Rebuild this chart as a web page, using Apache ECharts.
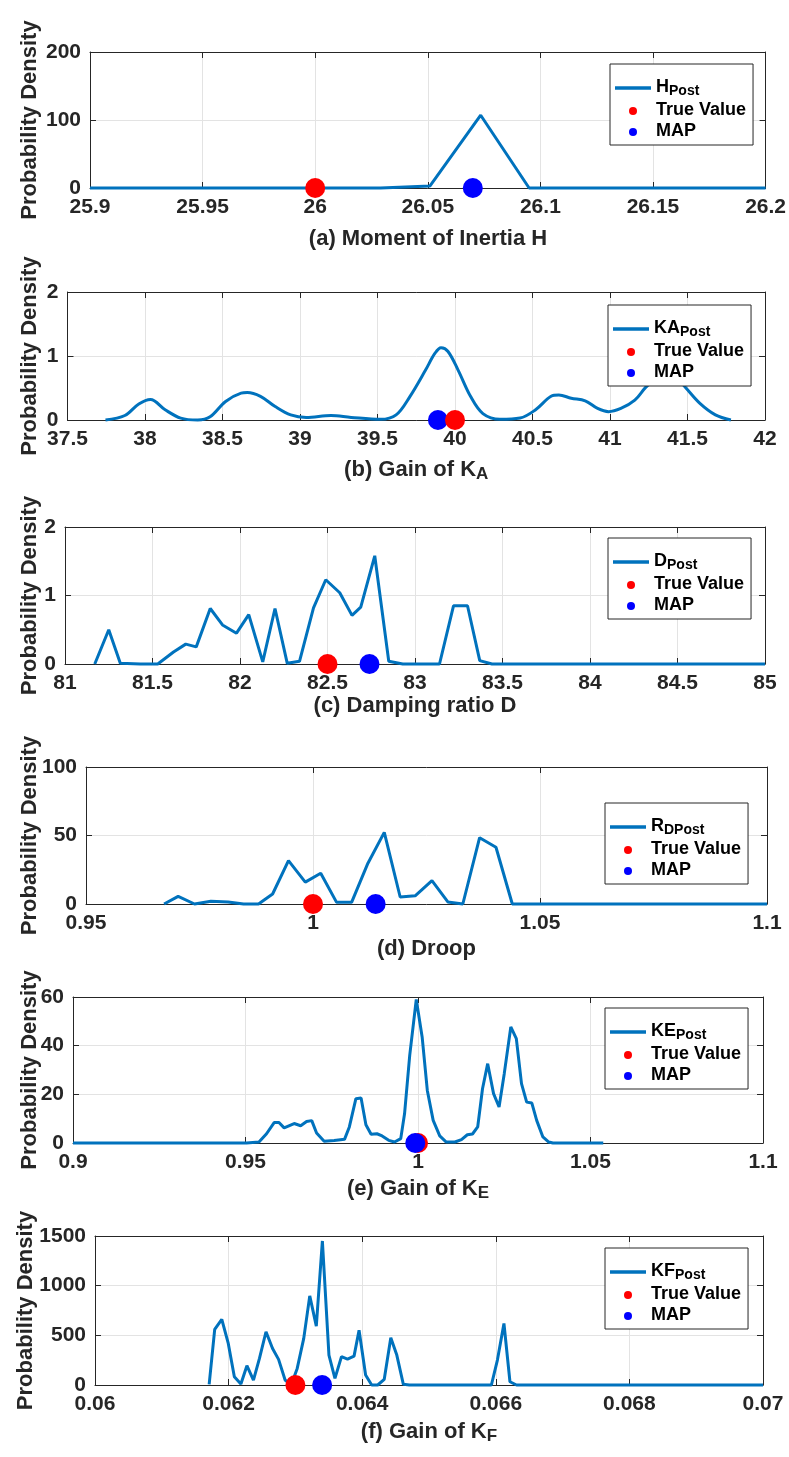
<!DOCTYPE html>
<html><head><meta charset="utf-8">
<script src="https://cdn.jsdelivr.net/npm/echarts@6/dist/echarts.min.js"></script>
<style>html,body{margin:0;padding:0;background:#fff}#c{width:789px;height:1457px}</style>
</head><body><div id="c"></div>
<script>
// ---------- DATA ----------
// (a) Moment of Inertia H
const H_x = [25.9, 25.95, 26.0, 26.029, 26.051, 26.0735, 26.095, 26.15, 26.2];
const H_y = [0, 0, 0, 0, 3, 107, 0, 0, 0];
const H_true = 26.0, H_map = 26.07;
// (b) Gain of KA
const KA_x = [37.745, 37.87, 37.96, 38.035, 38.13, 38.23, 38.34, 38.42, 38.52, 38.62, 38.66, 38.745, 38.84, 38.94, 39.04, 39.2, 39.33, 39.52, 39.62, 39.71, 39.81, 39.87, 39.91, 39.955, 40.02, 40.1, 40.18, 40.29, 40.42, 40.52, 40.62, 40.67, 40.75, 40.84, 40.92, 40.99, 41.07, 41.16, 41.23, 41.3, 41.36, 41.42, 41.49, 41.58, 41.68, 41.78];
const KA_y = [0, 0.07, 0.25, 0.32, 0.16, 0.03, 0.0, 0.05, 0.29, 0.42, 0.43, 0.37, 0.21, 0.08, 0.04, 0.07, 0.04, 0.01, 0.08, 0.37, 0.78, 1.04, 1.13, 1.07, 0.78, 0.37, 0.1, 0.01, 0.03, 0.16, 0.37, 0.39, 0.34, 0.30, 0.18, 0.13, 0.18, 0.31, 0.51, 0.66, 0.74, 0.68, 0.5, 0.26, 0.08, 0.0];
const KA_true = 40.0, KA_map = 39.89;
// (c) Damping ratio D
const D_x = [81.17, 81.25, 81.316, 81.43, 81.53, 81.62, 81.69, 81.75, 81.83, 81.9, 81.98, 82.05, 82.13, 82.2, 82.27, 82.34, 82.42, 82.49, 82.57, 82.64, 82.69, 82.77, 82.85, 82.93, 83.14, 83.22, 83.3, 83.37, 83.44, 84.0, 84.5, 85.0];
const D_y = [0, 0.50, 0.01, 0, 0, 0.175, 0.29, 0.25, 0.81, 0.57, 0.45, 0.72, 0.03, 0.81, 0.01, 0.04, 0.82, 1.23, 1.04, 0.71, 0.83, 1.58, 0.04, 0, 0, 0.85, 0.85, 0.05, 0, 0, 0, 0];
const D_true = 82.5, D_map = 82.74;
// (d) Droop
const RD_x = [0.9672, 0.9703, 0.9739, 0.9775, 0.9813, 0.9847, 0.988, 0.9911, 0.9946, 0.9983, 1.0017, 1.0052, 1.0085, 1.0121, 1.0157, 1.0192, 1.0225, 1.0262, 1.0297, 1.033, 1.0367, 1.0403, 1.0439, 1.07, 1.1];
const RD_y = [0, 5.6, 0, 2, 1.5, 0, 0, 7.3, 31.7, 16, 22.5, 1.2, 1.2, 29.8, 52.3, 5.1, 6, 17, 1.5, 0, 48.4, 41.4, 0, 0, 0];
const RD_true = 1.0, RD_map = 1.0138;
// (e) Gain of KE
const KE_x = [0.9, 0.93, 0.9503, 0.9539, 0.9561, 0.9583, 0.9597, 0.9612, 0.9641, 0.966, 0.9677, 0.9692, 0.9706, 0.9728, 0.9757, 0.9787, 0.9801, 0.982, 0.9835, 0.9849, 0.9864, 0.9881, 0.9896, 0.9915, 0.9932, 0.995, 0.9961, 0.9976, 0.9995, 1.0012, 1.0027, 1.0044, 1.0063, 1.0082, 1.0107, 1.0126, 1.0143, 1.0158, 1.0173, 1.0187, 1.0202, 1.0219, 1.0235, 1.025, 1.0269, 1.0285, 1.03, 1.0315, 1.033, 1.0344, 1.0362, 1.0379, 1.0391, 1.0537];
const KE_y = [0, 0, 0, 0.4, 3.8, 8.4, 8.4, 6.2, 8, 7.1, 8.8, 9.2, 4.1, 0.7, 1, 1.5, 6.6, 18.2, 18.5, 7.5, 3.6, 3.8, 2.9, 1.1, 0.4, 1.8, 12, 36, 59, 43.6, 21.6, 9.3, 2.9, 0.4, 0.4, 1.4, 3.4, 3.7, 6.6, 22.3, 32.6, 20.3, 14.8, 28.5, 47.7, 42.9, 24.4, 16.8, 16.4, 9.3, 2.5, 0.4, 0, 0];
const KE_true = 1.0, KE_map = 0.9992;
// (f) Gain of KF
const KF_x = [0.061709, 0.061792, 0.061898, 0.061995, 0.062086, 0.062184, 0.062274, 0.062372, 0.062462, 0.06256, 0.062658, 0.062748, 0.062846, 0.062937, 0.063027, 0.063125, 0.063215, 0.063313, 0.063404, 0.063502, 0.063592, 0.06369, 0.06378, 0.063878, 0.063953, 0.064051, 0.064142, 0.064232, 0.06433, 0.064428, 0.064518, 0.064616, 0.064706, 0.065934, 0.066024, 0.066122, 0.066212, 0.06631, 0.07];
const KF_y = [7, 559, 660, 418, 84, 10, 194, 50, 268, 536, 368, 258, 50, 0, 167, 469, 897, 593, 1450, 301, 67, 285, 261, 291, 552, 100, 0, 0, 57, 475, 301, 7, 0, 0, 251, 619, 33, 0, 0];
const KF_true = 0.063, KF_map = 0.0634;

// axis ranges / ticks
const xMin = [25.9, 37.5, 81, 0.95, 0.9, 0.06];
const xMax = [26.2, 42, 85, 1.1, 1.1, 0.07];
const xStep = [0.05, 0.5, 0.5, 0.05, 0.05, 0.002];
const yMax = [200, 2, 2, 100, 60, 1500];
const yStep = [100, 1, 1, 50, 20, 500];

// labels
const legendMain = ['H', 'KA', 'D', 'R', 'KE', 'KF'];
const legendSub = ['Post', 'Post', 'Post', 'DPost', 'Post', 'Post'];
const titleMain = ['(a) Moment of Inertia H', '(b) Gain of K', '(c) Damping ratio D', '(d) Droop', '(e) Gain of K', '(f) Gain of K'];
const titleSub = ['', 'A', '', '', 'E', 'F'];

// ---------- LAYOUT (pixels) ----------
const gL = [90, 67.5, 65, 86, 73, 95];
const gT = [52, 292, 527, 767, 997, 1236];
const gR = [766, 765, 765, 767, 763, 763];
const gB = [188, 420, 664, 904, 1143, 1385];
const legXY = [[610, 64], [608, 305], [608, 538], [605, 803], [605, 1008], [605, 1248]];
const titleY = [240, 471, 707, 950, 1190, 1433];
const yNameX = [41, 41, 41, 41, 41, 37];
const trueOnTop = [false, true, false, false, false, false];

const xs = [H_x, KA_x, D_x, RD_x, KE_x, KF_x];
const ys = [H_y, KA_y, D_y, RD_y, KE_y, KF_y];
const trues = [H_true, KA_true, D_true, RD_true, KE_true, KF_true];
const maps = [H_map, KA_map, D_map, RD_map, KE_map, KF_map];

const AX = '#262626', GRIDC = '#e3e3e3', BLUE_LINE = '#0072BD';
const FONT = '"Liberation Sans", Arial, sans-serif';
const plainNum = v => String(+v.toPrecision(12));

const option = {
  backgroundColor: '#fff',
  animation: false,
  grid: [], xAxis: [], yAxis: [], series: [], legend: [], graphic: []
};

for (let i = 0; i < 6; i++) {
  option.grid.push({left: gL[i], top: gT[i], width: gR[i] - gL[i], height: gB[i] - gT[i], containLabel: false});
}
// primary axes
for (let i = 0; i < 6; i++) {
  option.xAxis.push({
    type: 'value', gridIndex: i, min: xMin[i], max: xMax[i], interval: xStep[i],
    axisLine: {show: true, onZero: false, lineStyle: {color: AX, width: 1}},
    axisTick: {show: true, inside: true, length: 6, lineStyle: {color: AX}},
    axisLabel: {color: AX, fontSize: 21, fontWeight: 'bold', fontFamily: FONT, margin: 9, formatter: plainNum},
    splitLine: {show: true, lineStyle: {color: GRIDC, width: 1}}
  });
  option.yAxis.push({
    type: 'value', gridIndex: i, min: 0, max: yMax[i], interval: yStep[i],
    name: 'Probability Density', nameLocation: 'middle', nameGap: gL[i] - yNameX[i], nameMoveOverlap: false,
    nameTextStyle: {color: AX, fontSize: 22, fontWeight: 'bold', fontFamily: FONT},
    axisLine: {show: true, lineStyle: {color: AX, width: 1}},
    axisTick: {show: true, inside: true, length: 6, lineStyle: {color: AX}},
    axisLabel: {color: AX, fontSize: 21, fontWeight: 'bold', fontFamily: FONT, margin: 9, formatter: plainNum},
    splitLine: {show: true, lineStyle: {color: GRIDC, width: 1}}
  });
}
// mirror axes (top / right) for the box with inward ticks
for (let i = 0; i < 6; i++) {
  option.xAxis.push({
    type: 'value', gridIndex: i, position: 'top', min: xMin[i], max: xMax[i], interval: xStep[i],
    axisLine: {show: true, onZero: false, lineStyle: {color: AX, width: 1}},
    axisTick: {show: true, inside: true, length: 6, lineStyle: {color: AX}},
    axisLabel: {show: false}, splitLine: {show: false}
  });
  option.yAxis.push({
    type: 'value', gridIndex: i, position: 'right', min: 0, max: yMax[i], interval: yStep[i],
    axisLine: {show: true, lineStyle: {color: AX, width: 1}},
    axisTick: {show: true, inside: true, length: 6, lineStyle: {color: AX}},
    axisLabel: {show: false}, splitLine: {show: false}
  });
}

for (let i = 0; i < 6; i++) {
  const lineName = legendMain[i] + '_' + legendSub[i];
  const pts = xs[i].map((x, k) => [x, ys[i][k]]);
  option.series.push({
    name: lineName, type: 'line', xAxisIndex: i, yAxisIndex: i, data: pts,
    symbol: 'none', showSymbol: false, smooth: i === 1 ? 0.35 : false, clip: false,
    lineStyle: {color: BLUE_LINE, width: 3}, itemStyle: {color: BLUE_LINE}, z: 2
  });
  option.series.push({
    name: 'True Value', type: 'scatter', xAxisIndex: i, yAxisIndex: i, data: [[trues[i], 0]],
    symbol: 'circle', symbolSize: 20, itemStyle: {color: '#ff0000', opacity: 1}, z: trueOnTop[i] ? 4 : 3
  });
  option.series.push({
    name: 'MAP', type: 'scatter', xAxisIndex: i, yAxisIndex: i, data: [[maps[i], 0]],
    symbol: 'circle', symbolSize: 20, itemStyle: {color: '#0000ff', opacity: 1}, z: trueOnTop[i] ? 3 : 4
  });
  option.legend.push({
    left: legXY[i][0], top: legXY[i][1], orient: 'vertical', selectedMode: false,
    data: [
      {name: lineName, icon: 'path://M0 0H36V3.3H0Z', itemStyle: {color: BLUE_LINE, borderWidth: 0}},
      {name: 'True Value', icon: 'circle'},
      {name: 'MAP', icon: 'circle'}
    ],
    backgroundColor: '#fff', borderColor: AX, borderWidth: 1, borderRadius: 0,
    padding: [5, 7, 5, 5], itemGap: 3, itemWidth: 36, itemHeight: 8,
    formatter: function (name) {
      if (name === lineName) return '{m|' + legendMain[i] + '}{s|' + legendSub[i] + '}';
      return '{m|' + name + '}';
    },
    textStyle: {
      color: '#000', fontFamily: FONT, fontWeight: 'bold', fontSize: 18,
      rich: {
        m: {fontSize: 18, fontWeight: 'bold', fontFamily: FONT, color: '#000', lineHeight: 20, verticalAlign: 'top'},
        s: {fontSize: 14, fontWeight: 'bold', fontFamily: FONT, color: '#000', lineHeight: 14, verticalAlign: 'bottom', padding: [15, 0, 0, 0]}
      }
    },
    z: 10
  });
  const cx = (gL[i] + gR[i]) / 2;
  const txt = titleSub[i] ? '{m|' + titleMain[i] + '}{s|' + titleSub[i] + '}' : '{m|' + titleMain[i] + '}';
  option.graphic.push({
    type: 'text', x: cx, y: titleY[i] - 12, z: 20,
    style: {
      text: txt, align: 'center', verticalAlign: 'top', fill: AX,
      font: 'bold 22px ' + FONT,
      rich: {
        m: {fontSize: 22, fontWeight: 'bold', fontFamily: FONT, fill: AX, lineHeight: 24, verticalAlign: 'top'},
        s: {fontSize: 17, fontWeight: 'bold', fontFamily: FONT, fill: AX, lineHeight: 17, verticalAlign: 'bottom', padding: [12, 0, 0, 0]}
      }
    }
  });
}

const chart = echarts.init(document.getElementById('c'), null, {renderer: 'canvas'});
chart.setOption(option);
</script>
</body></html>
